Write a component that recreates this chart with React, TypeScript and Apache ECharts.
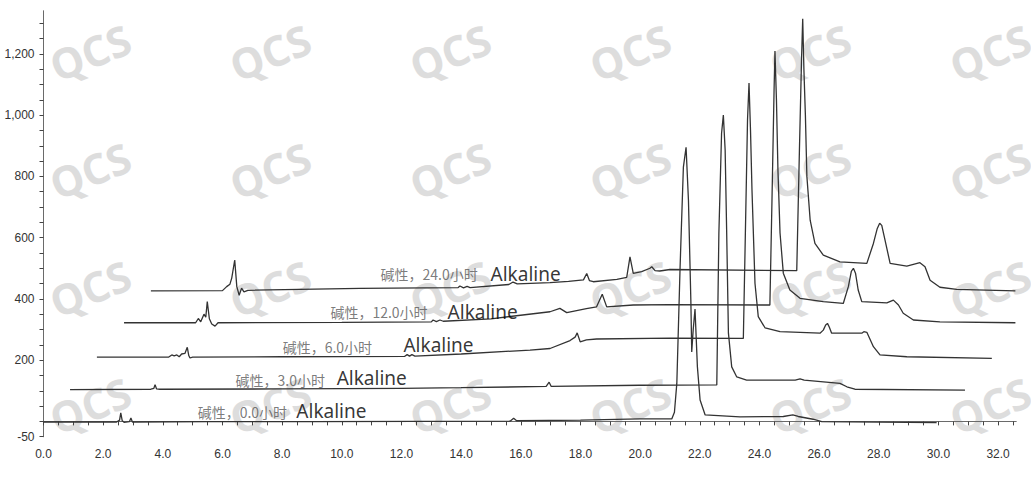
import React, { useEffect, useRef } from "react";
import * as echarts from "echarts";

// Retention time (min) vs. signal, as plotted (overlay with offsets)
const trace0h: number[][] = [
  [0.0, -2], [2.45, -2], [2.55, 4], [2.59, 28], [2.64, 2], [2.7, -3], [2.88, -1], [2.93, 11], [2.98, -2],
  [5.5, -1], [9.0, -1], [12.5, 0], [15.65, 1], [15.76, 10], [15.86, 2], [18.0, 4], [19.99, 8], [21.06, 8],
  [21.15, 30], [21.23, 124], [21.34, 505], [21.45, 830], [21.54, 895], [21.62, 722], [21.7, 396], [21.73, 227],
  [21.78, 300], [21.84, 367], [21.92, 178], [22.01, 70], [22.18, 21], [23.35, 15], [24.8, 16], [25.12, 21],
  [25.3, 16], [25.8, 7], [26.09, -1], [29.94, -4],
];
const trace3h: number[][] = [
  [0.89, 104], [3.6, 105], [3.7, 108], [3.74, 120], [3.79, 106], [3.9, 105], [8.0, 106], [12.0, 108],
  [14.0, 110], [16.85, 114], [16.95, 128], [17.02, 114], [19.99, 118], [22.57, 119], [22.64, 615],
  [22.73, 941], [22.79, 1000], [22.85, 886], [22.9, 625], [22.96, 288], [23.07, 178], [23.24, 145],
  [23.57, 135], [25.2, 135], [25.36, 139], [25.5, 135], [26.7, 124], [26.93, 113], [27.2, 105], [30.89, 102],
];
const trace6h: number[][] = [
  [1.79, 210], [4.2, 210], [4.3, 217], [4.38, 214], [4.47, 217], [4.55, 211], [4.63, 220], [4.74, 222],
  [4.82, 242], [4.87, 215], [4.91, 207], [5.0, 210], [8.0, 211], [12.1, 212], [12.19, 218], [12.27, 213],
  [12.35, 218], [12.45, 213], [14.0, 220], [16.31, 233], [16.98, 238], [17.65, 264], [17.82, 275],
  [17.89, 289], [17.99, 260], [18.2, 266], [18.54, 269], [21.0, 272], [23.46, 271], [23.53, 625],
  [23.6, 984], [23.65, 1105], [23.7, 951], [23.75, 755], [23.85, 451], [23.96, 342], [24.19, 305],
  [24.69, 293], [26.03, 288], [26.14, 298], [26.22, 315], [26.28, 320], [26.34, 308], [26.42, 288],
  [27.43, 288], [27.5, 293], [27.6, 291], [27.82, 244], [28.04, 217], [28.94, 211], [31.79, 206],
];
const trace12h: number[][] = [
  [2.7, 322], [5.1, 322], [5.19, 336], [5.27, 325], [5.38, 350], [5.44, 340], [5.49, 391], [5.56, 335],
  [5.64, 318], [5.75, 311], [5.85, 322], [10.0, 323], [13.0, 325], [13.06, 331], [13.17, 326], [13.29, 331],
  [13.4, 327], [15.0, 335], [16.98, 358], [17.31, 369], [17.54, 355], [18.2, 368], [18.54, 374], [18.73, 415],
  [18.88, 374], [19.77, 380], [21.0, 381], [24.35, 380], [24.42, 722], [24.49, 1081], [24.52, 1209],
  [24.57, 1049], [24.62, 820], [24.69, 615], [24.8, 484], [25.02, 429], [25.36, 402], [26.14, 391],
  [26.81, 385], [26.98, 440], [27.08, 490], [27.15, 500], [27.22, 484], [27.31, 429], [27.43, 391],
  [28.27, 387], [28.49, 396], [28.66, 380], [28.82, 353], [29.16, 331], [30.05, 325], [32.58, 322],
];
const trace24h: number[][] = [
  [3.6, 426], [6.0, 427], [6.14, 440], [6.25, 448], [6.31, 468], [6.41, 527], [6.48, 440], [6.56, 412],
  [6.64, 435], [6.72, 423], [6.85, 428], [10.61, 434], [13.9, 437], [13.96, 442], [14.08, 436], [14.2, 441],
  [14.3, 437], [15.6, 447], [15.74, 455], [15.88, 449], [16.98, 453], [17.6, 457], [18.1, 462], [18.21, 483],
  [18.3, 460], [18.43, 456], [19.22, 464], [19.55, 470], [19.66, 537], [19.77, 483], [20.05, 489],
  [20.33, 500], [20.39, 505], [20.5, 492], [20.66, 491], [21.0, 496], [25.25, 492], [25.34, 886],
  [25.41, 1179], [25.45, 1315], [25.49, 1150], [25.54, 1000], [25.59, 800], [25.7, 657], [25.86, 581],
  [26.14, 543], [26.7, 521], [27.6, 516], [27.82, 581], [27.95, 630], [28.03, 647], [28.1, 640],
  [28.18, 605], [28.27, 565], [28.38, 516], [28.94, 507], [29.38, 518], [29.55, 505], [29.72, 461],
  [30.05, 438], [30.61, 431], [32.58, 426],
];

const traceNames = ["碱性，0.0小时", "碱性，3.0小时", "碱性，6.0小时", "碱性，12.0小时", "碱性，24.0小时"];
const traces = [trace0h, trace3h, trace6h, trace12h, trace24h];
// label anchors (left edge, vertical middle) in data units
const cnLabelPos: number[][] = [[5.15, 31], [6.42, 135], [8.0, 243], [9.6, 357], [11.28, 481]];
const enLabelText = "Alkaline";
const enLabelPos: number[][] = [[8.46, 34], [9.81, 141], [12.05, 249], [13.53, 357], [14.97, 481]];

const xLabelValues = [0, 2, 4, 6, 8, 10, 12, 14, 16, 18, 20, 22, 24, 26, 28, 30, 32];
const yLabelValues = [-50, 200, 400, 600, 800, 1000, 1200];
const X_MIN = 0, X_MAX = 32.6, Y_MIN = -50, Y_MAX = 1340;

const tickFont = '"Liberation Sans", Arial, sans-serif';

export default function App() {
  const ref = useRef<HTMLDivElement>(null);
  useEffect(() => {
    document.body.style.margin = "0";
    const chart = echarts.init(ref.current!, null, { renderer: "svg" });

    const xTicks: number[] = [];
    for (let v = 0; v <= 32.5 + 1e-9; v += 0.5) xTicks.push(Math.round(v * 10) / 10);
    const yTicks: number[] = [];
    for (let v = -50; v <= 1300; v += 50) yTicks.push(v);

    const watermarks: any[] = [];
    const cols = [90, 270, 450, 630, 810, 990];
    const rows = [52, 170, 288, 405];
    rows.forEach((ry) =>
      cols.forEach((cx) =>
        watermarks.push({
          type: "text",
          x: cx,
          y: ry,
          rotation: 0.38,
          z: 0,
          silent: true,
          style: {
            text: "QCS",
            fill: "#dddddd",
            fontSize: 42,
            fontWeight: "bold",
            fontFamily: '"Open Sans", sans-serif',
            align: "center",
            verticalAlign: "middle",
          },
        })
      )
    );

    const lineColor = "#6a6a6a";
    const labelSeries = (pos: number[][], names: string[], label: any) => ({
      type: "scatter",
      silent: true,
      symbol: "circle",
      symbolSize: 1,
      itemStyle: { color: "rgba(0,0,0,0)" },
      z: 4,
      data: pos.map((p, i) => ({ value: p, name: names[i] })),
      label: { show: true, position: "right", distance: 0, formatter: (p: any) => p.name, ...label },
      labelLayout: { hideOverlap: false },
    });

    chart.setOption({
      animation: false,
      backgroundColor: "#ffffff",
      grid: { left: 43.5, right: 15, top: 11, bottom: 40.3, containLabel: false },
      graphic: watermarks,
      xAxis: [
        {
          type: "value",
          min: X_MIN,
          max: X_MAX,
          position: "bottom",
          offset: 5,
          axisLine: { show: true, lineStyle: { color: lineColor, width: 1 } },
          axisTick: { show: true, length: 4, customValues: xTicks, lineStyle: { color: "#444" } },
          axisLabel: {
            customValues: xLabelValues,
            formatter: (v: number) => v.toFixed(1),
            fontSize: 12,
            color: "#333",
            margin: 6,
            fontFamily: tickFont,
          },
          splitLine: { show: false },
        },
        {
          type: "value",
          min: X_MIN,
          max: X_MAX,
          position: "bottom",
          offset: 0,
          axisLine: { show: true, lineStyle: { color: lineColor, width: 1 } },
          axisTick: { show: false },
          axisLabel: { show: false },
          splitLine: { show: false },
        },
      ],
      yAxis: [
        {
          type: "value",
          min: Y_MIN,
          max: Y_MAX,
          position: "left",
          offset: 4,
          axisLine: { show: true, lineStyle: { color: lineColor, width: 1 } },
          axisTick: { show: true, length: 4, customValues: yTicks, lineStyle: { color: "#444" } },
          axisLabel: {
            customValues: yLabelValues,
            formatter: (v: number) => v.toLocaleString("en-US"),
            fontSize: 12,
            color: "#333",
            margin: 5,
            fontFamily: tickFont,
          },
          splitLine: { show: false },
        },
        {
          type: "value",
          min: Y_MIN,
          max: Y_MAX,
          position: "left",
          offset: 0,
          axisLine: { show: true, lineStyle: { color: lineColor, width: 1 } },
          axisTick: { show: false },
          axisLabel: { show: false },
          splitLine: { show: false },
        },
      ],
      series: [
        ...traces.map((d, i) => ({
          name: traceNames[i],
          type: "line",
          xAxisIndex: 0,
          yAxisIndex: 0,
          data: d,
          showSymbol: false,
          symbol: "none",
          silent: true,
          z: 3,
          lineStyle: { color: "#333333", width: 1.3 },
        })),
        labelSeries(cnLabelPos, traceNames, {
          color: "#595959",
          fontSize: 14,
          fontFamily: '"Noto Sans CJK SC", sans-serif',
        }),
        labelSeries(enLabelPos, enLabelPos.map(() => enLabelText), {
          color: "#000000",
          fontSize: 19,
          fontFamily: '"Noto Sans", sans-serif',
        }),
      ],
    });
    return () => chart.dispose();
  }, []);
  return <div ref={ref} style={{ width: 1031, height: 477 }} />;
}
